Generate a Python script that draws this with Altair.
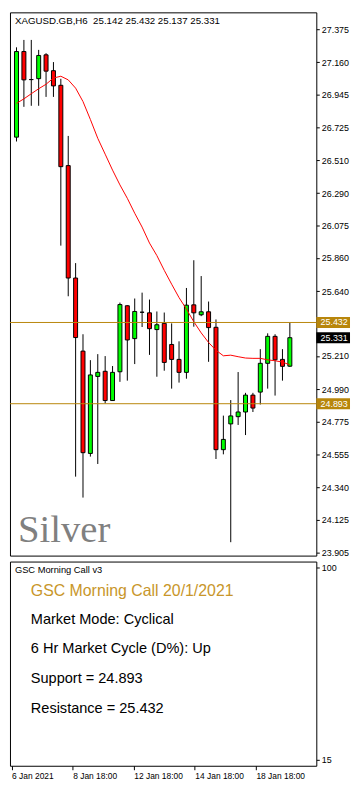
import json
import altair as alt
import pandas as pd

# ---------------- data ----------------
bar_index = list(range(38))
opens = [26.662, 27.230, 27.044, 27.050, 27.208, 27.103, 27.006, 26.473, 25.727, 25.242,
         24.563, 25.074, 25.108, 24.914, 25.105, 25.543, 25.325, 25.500, 25.496, 25.385,
         25.426, 25.286, 25.187, 25.101, 25.549, 25.483, 25.503, 25.400, 24.588, 24.759,
         24.807, 24.838, 24.950, 24.970, 25.161, 25.340, 25.187, 25.142]
highs = [27.258, 27.307, 27.307, 27.241, 27.219, 27.160, 27.049, 26.670, 25.826, 25.354,
         25.182, 25.222, 25.209, 25.143, 25.564, 25.546, 25.591, 25.630, 25.584, 25.505,
         25.498, 25.426, 25.307, 25.661, 25.845, 25.740, 25.571, 25.452, 24.814, 24.917,
         25.103, 24.965, 24.965, 25.255, 25.360, 25.354, 25.255, 25.432]
lows = [26.633, 26.863, 26.870, 26.870, 26.929, 26.929, 25.942, 25.606, 24.409, 24.270,
        24.542, 24.493, 24.895, 24.912, 25.038, 25.046, 25.156, 25.402, 25.217, 25.072,
        25.112, 24.993, 25.033, 25.059, 25.404, 25.474, 25.171, 24.526, 24.557, 23.974,
        24.752, 24.685, 24.838, 24.888, 24.993, 24.947, 25.046, 25.137]
closes = [27.230, 27.042, 27.044, 27.204, 27.100, 27.002, 26.466, 25.727, 25.332, 24.568,
          25.084, 25.101, 24.914, 25.101, 25.551, 25.316, 25.505, 25.500, 25.391, 25.417,
          25.167, 25.187, 25.101, 25.547, 25.496, 25.503, 25.398, 24.588, 24.656, 24.812,
          24.838, 24.950, 24.864, 25.161, 25.340, 25.184, 25.141, 25.331]
ma_values = [26.886, 26.916, 26.950, 26.983, 27.013, 27.054, 27.066, 27.042, 26.987, 26.898,
             26.779, 26.654, 26.549, 26.443, 26.345, 26.256, 26.157, 26.065, 25.959, 25.876,
             25.778, 25.686, 25.597, 25.521, 25.437, 25.363, 25.299, 25.248, 25.211, 25.215,
             25.205, 25.196, 25.194, 25.194, 25.184, 25.178, 25.169, 25.151]

price_ticks = [27.375, 27.160, 26.945, 26.725, 26.510, 26.290, 26.075, 25.860, 25.640,
               25.210, 24.990, 24.775, 24.555, 24.340, 24.125, 23.905]
tick_bars = [0, 8, 16, 24, 32]
tick_labels = ["6 Jan 2021", "8 Jan 18:00", "12 Jan 18:00", "14 Jan 18:00", "18 Jan 18:00"]
sub_ticks = [15, 100]

support = 24.893
resistance = 25.432
last_close = 25.331

header_text = "XAGUSD.GB,H6\u00a0\u00a025.142 25.432 25.137 25.331"
watermark = "Silver"
indicator_name = "GSC Morning Call v3"
call_title = "GSC Morning Call 20/1/2021"
info_lines = ["Market Mode: Cyclical", "6 Hr Market Cycle (D%): Up",
              "Support = 24.893", "Resistance = 25.432"]

# ---------------- layout / style ----------------
W = 309
H_MAIN = 548
H_SUB = 206
BOX_W = 34
X_DOMAIN = [-0.2125, 39.91]
Y_DOMAIN = [23.885, 27.490]
SUB_DOMAIN = [12.37, 102.63]
GOLD = "#B8860B"
FONT = "Liberation Sans"

df = pd.DataFrame({"i": bar_index, "open": opens, "high": highs, "low": lows,
                   "close": closes, "ma": ma_values})
df["dir"] = ["up" if c > o else ("down" if c < o else "flat") for o, c in zip(opens, closes)]

xs = alt.Scale(domain=X_DOMAIN, nice=False, zero=False)
ys = alt.Scale(domain=Y_DOMAIN, nice=False, zero=False)
x_enc = alt.X("i:Q", scale=xs, axis=None)

y_axis = alt.Axis(orient="right", values=price_ticks, format=".3f", labelFontSize=9,
                  tickSize=3, domain=False, grid=False, title=None, labelColor="black",
                  tickColor="black", labelPadding=2, labelOverlap=False, labelFont=FONT)


def py(field):
    return alt.Y(field, scale=ys, axis=y_axis)


base = alt.Chart(df)
wicks = base.mark_rule(color="black", strokeWidth=1, clip=True).encode(
    x=x_enc, y=py("low:Q"), y2="high:Q")
bodies = base.mark_bar(size=4, stroke="black", strokeWidth=1, clip=True).encode(
    x=x_enc, y=py("open:Q"), y2="close:Q",
    fill=alt.Fill("dir:N", scale=alt.Scale(domain=["up", "down", "flat"],
                                           range=["#00FF00", "#FF0000", "#000000"]),
                  legend=None))
ma_line = base.mark_line(color="#FF0000", strokeWidth=1, clip=True).encode(
    x=x_enc, y=py("ma:Q"))

levels_df = pd.DataFrame({"level": [support, resistance]})
levels = alt.Chart(levels_df).mark_rule(color=GOLD, strokeWidth=1).encode(y=py("level:Q"))

boxes_df = pd.DataFrame({"price": [resistance, last_close, support],
                         "kind": ["level", "last", "level"]})
level_boxes = alt.Chart(boxes_df).transform_filter("datum.kind == 'level'").mark_rect(
    height=11, color=GOLD).encode(x=alt.value(W), x2=alt.value(W + BOX_W), y=py("price:Q"))
last_box = alt.Chart(boxes_df).transform_filter("datum.kind == 'last'").mark_rect(
    height=11, color="#000000").encode(x=alt.value(W), x2=alt.value(W + BOX_W), y=py("price:Q"))
box_text = alt.Chart(boxes_df).mark_text(color="white", fontSize=9, align="center",
                                         baseline="middle", font=FONT).encode(
    x=alt.value(W + BOX_W / 2 + 1), y=py("price:Q"),
    text=alt.Text("price:Q", format=".3f"))


def label(text, x, y, size, color="black", font=FONT, baseline="middle"):
    return alt.Chart(pd.DataFrame({"t": [text]})).mark_text(
        align="left", baseline=baseline, fontSize=size, color=color, font=font).encode(
        x=alt.value(x), y=alt.value(y), text="t:N")


header = label(header_text, 5, 8.5, 9.8)
silver = label(watermark, 8, 534.5, 39, color="#808080", font="Liberation Serif",
               baseline="alphabetic")

main = alt.layer(wicks, bodies, ma_line, levels, level_boxes, last_box, box_text,
                 header, silver).properties(width=W, height=H_MAIN)

# ---------------- lower indicator panel ----------------
label_expr = json.dumps(tick_labels) + "[round(datum.value / 8)]"
axis_df = pd.DataFrame({"i": [tick_bars[0], tick_bars[-1]], "v": sub_ticks})
axis_layer = alt.Chart(axis_df).mark_point(opacity=0).encode(
    x=alt.X("i:Q", scale=xs,
            axis=alt.Axis(values=tick_bars, labelExpr=label_expr, labelAlign="left",
                          labelFontSize=8.5, tickSize=4, labelPadding=2, domain=False,
                          grid=False, title=None, labelOverlap=False, labelColor="black",
                          tickColor="black", labelFont=FONT, labelFlush=False)),
    y=alt.Y("v:Q", scale=alt.Scale(domain=SUB_DOMAIN, nice=False, zero=False),
            axis=alt.Axis(orient="right", values=sub_ticks, format="d", labelFontSize=9,
                          tickSize=3, domain=False, grid=False, title=None,
                          labelColor="black", tickColor="black", labelPadding=2,
                          labelFont=FONT)))

sub_layers = [axis_layer,
              label(indicator_name, 5, 9, 9.4),
              label(call_title, 21, 29.7, 16, color="#C8962A")]
for k, line in enumerate(info_lines):
    sub_layers.append(label(line, 21, 58.7 + 30 * k, 14.67))

sub = alt.layer(*sub_layers).properties(width=W, height=H_SUB)

chart = (
    alt.vconcat(main, sub, spacing=2)
    .properties(padding=0, background="white")
    .configure(font=FONT)
    .configure_view(stroke="black", strokeWidth=1)
    .configure_axis(labelOverlap=False)
)

chart.save("out.html", embed_options={"renderer": "svg", "actions": False})
